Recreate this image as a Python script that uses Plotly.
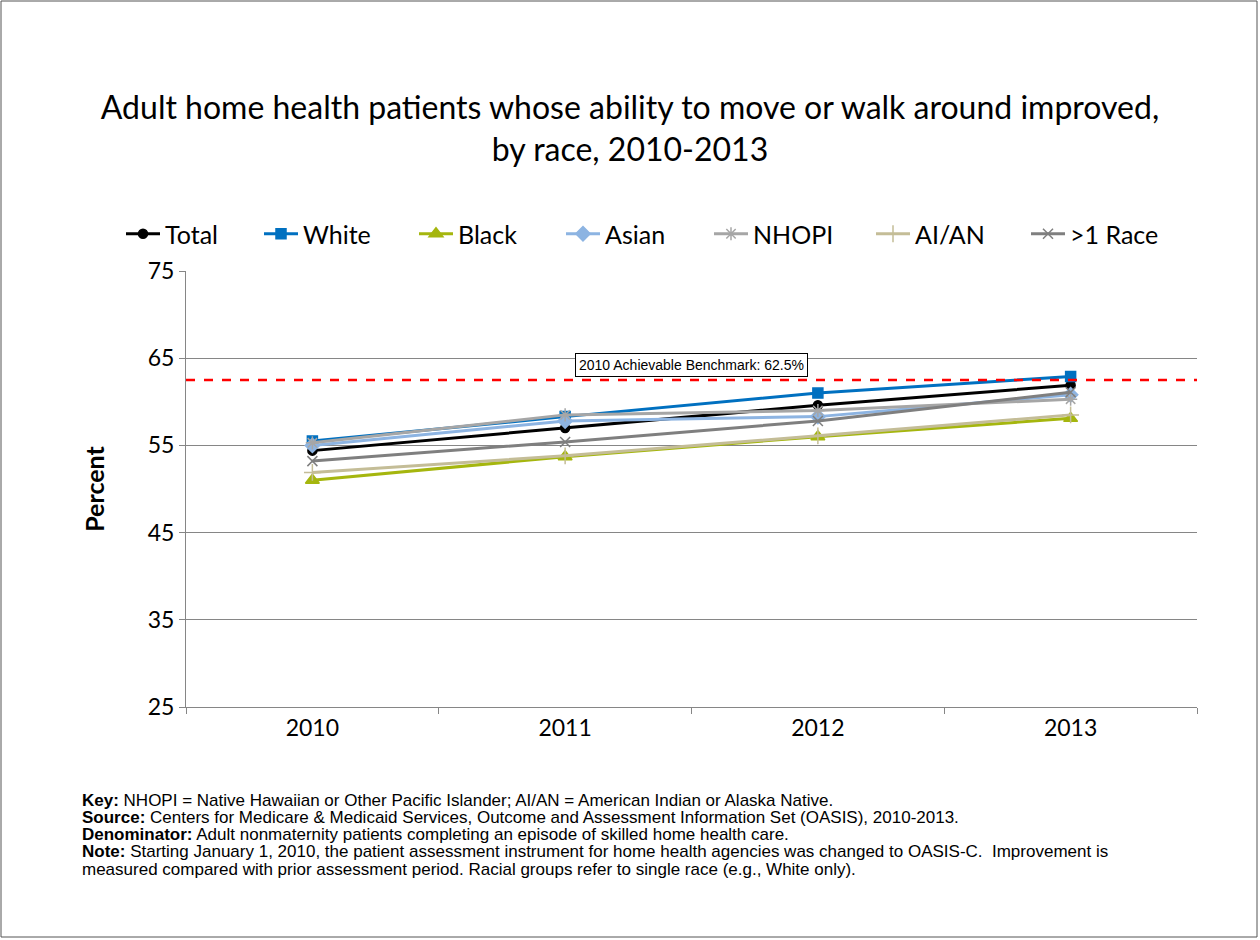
import plotly.graph_objects as go

years = ["2010", "2011", "2012", "2013"]
total = [54.4, 57.0, 59.6, 61.9]
white = [55.5, 58.3, 61.0, 62.9]
black = [51.0, 53.7, 56.0, 58.1]
asian = [55.0, 57.8, 58.3, 60.8]
nhopi = [55.3, 58.5, 59.0, 60.3]
aian = [51.9, 53.8, 56.1, 58.5]
multi = [53.2, 55.4, 57.8, 61.1]
benchmark = 62.5

series = [
    ("Total", total, "#000000", "circle", 9),
    ("White", white, "#0070C0", "square", 10),
    ("Black", black, "#A5B60E", "triangle-up", 12),
    ("Asian", asian, "#8DB4E2", "diamond", 11),
    ("NHOPI", nhopi, "#A6A6A6", "asterisk", 11),
    ("AI/AN", aian, "#C4BD97", "cross-thin", 12),
    (">1 Race", multi, "#7F7F7F", "x-thin", 10),
]
# left pixel of each legend entry (Excel lays them out by text width)
legend_px = [127, 265, 420, 567, 715, 877, 1032]

W, H = 1260, 940
l, r, t, b = 186, 63, 271, 233
pw, ph = W - l - r, H - t - b

fig = go.Figure()
legends = {}
for i, (name, vals, color, sym, size) in enumerate(series):
    key = "legend" if i == 0 else f"legend{i + 1}"
    fig.add_trace(go.Scatter(
        x=years, y=vals, name=name, mode="lines+markers", legend=key,
        showlegend=True,
        line=dict(color=color, width=3),
        marker=dict(symbol=sym, size=size, color=color,
                    line=dict(color=color, width=1.5)),
    ))
    legends[key] = dict(x=(legend_px[i] - 6 - l) / pw, xanchor="left",
                        y=1 + (271 - 234) / ph, yanchor="middle",
                        bgcolor="rgba(0,0,0,0)", itemwidth=34, visible=True,
                        font=dict(family="Lato, Open Sans", size=25, color="black"))

fig.add_shape(type="line", xref="paper", x0=0, x1=1, yref="y",
              y0=benchmark, y1=benchmark,
              line=dict(color="#FF0000", width=2.5, dash="dash"))
fig.add_annotation(xref="paper", x=0.5, yref="y", y=64.2,
                   text=f"2010 Achievable Benchmark: {benchmark}%",
                   showarrow=False, bordercolor="#000000", borderwidth=1,
                   borderpad=3, bgcolor="white",
                   font=dict(family="Liberation Sans, Arial", size=14, color="black"))

# outer frame
fig.add_shape(type="rect", xref="paper", yref="paper",
              x0=-(l - 1) / pw, x1=1 + (r - 3) / pw,
              y0=-(b - 3) / ph, y1=1 + (t - 1) / ph,
              line=dict(color="#555555", width=1))

foot = [
    "<b>Key:</b> NHOPI = Native Hawaiian or Other Pacific Islander; AI/AN = American Indian or Alaska Native.",
    "<b>Source:</b> Centers for Medicare &amp; Medicaid Services, Outcome and Assessment Information Set (OASIS), 2010-2013.",
    "<b>Denominator:</b> Adult nonmaternity patients completing an episode of skilled home health care.",
    "<b>Note:</b> Starting January 1, 2010, the patient assessment instrument for home health agencies was changed to OASIS-C.  Improvement is",
    "measured compared with prior assessment period. Racial groups refer to single race (e.g., White only).",
]
for i, line in enumerate(foot):
    fig.add_annotation(xref="paper", yref="paper", x=(80 - l) / pw,
                       y=-(800 + 17.3 * i - 707) / ph,
                       xanchor="left", yanchor="middle", align="left", showarrow=False,
                       text=line,
                       font=dict(family="Liberation Sans, Arial", size=17, color="black"))

fig.update_layout(
    width=W, height=H,
    margin=dict(l=l, r=r, t=t, b=b),
    paper_bgcolor="white", plot_bgcolor="white",
    showlegend=True,
    title=dict(text="Adult home health patients whose ability to move or walk around improved,<br>by race, 2010-2013",
               x=0.5, xanchor="center", y=0.873, yanchor="middle",
               font=dict(family="Lato, Open Sans", size=32, color="black")),
    xaxis=dict(type="category", range=[-0.5, 3.5], showgrid=False,
               showline=True, linecolor="#868686", linewidth=1,
               ticks="outside", tickson="boundaries", ticklen=6, tickcolor="#868686",
               tickfont=dict(family="Lato, Open Sans", size=23, color="black")),
    yaxis=dict(range=[25, 75], tick0=25, dtick=10, showgrid=True, gridcolor="#868686",
               showline=True, linecolor="#868686", linewidth=1,
               ticks="outside", ticklen=6, tickcolor="#868686",
               tickfont=dict(family="Lato, Open Sans", size=23, color="black"),
               title=dict(text="<b>Percent</b>", standoff=35,
                          font=dict(family="Lato, Open Sans", size=25, color="black"))),
    **legends,
)

fig.write_html("out.html", config={"displayModeBar": False},
               post_script="document.body.style.margin='0';")
